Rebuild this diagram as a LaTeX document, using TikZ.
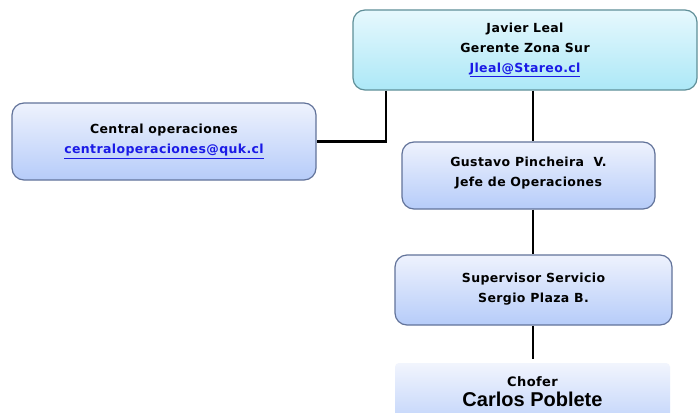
\documentclass[tikz,border=0pt]{standalone}
\usepackage{fontspec}
\setmainfont{DejaVu Sans}[LetterSpace=3]
\newfontfamily\bigfont{Liberation Sans}
\usetikzlibrary{calc}
\definecolor{cyantop}{HTML}{E6F8FD}
\definecolor{cyanbot}{HTML}{ACE8F7}
\definecolor{cyanedge}{HTML}{5F8F98}
\definecolor{bluetop}{HTML}{EEF2FD}
\definecolor{bluebot}{HTML}{B6CCF9}
\definecolor{blueedge}{HTML}{62739A}
\definecolor{linkblue}{HTML}{1A1AE6}
\tikzset{
  boxbase/.style={rounded corners=12pt, line width=1.2pt, align=center, inner sep=0pt,
    font=\fontsize{12.5}{20}\selectfont\bfseries, text=black},
  cyanbox/.style={boxbase, draw=cyanedge, top color=cyantop, bottom color=cyanbot},
  bluebox/.style={boxbase, draw=blueedge, top color=bluetop, bottom color=bluebot},
  softbox/.style={boxbase, rounded corners=4pt, draw=none, top color=bluetop!80!white, bottom color=bluebot!80!white},
  conn/.style={line width=2.6pt, black}
}
\newcommand{\lnk}[1]{\textcolor{linkblue}{\underline{#1}}}
\begin{document}
\begin{tikzpicture}[x=1pt,y=-1pt]
\useasboundingbox (0,0) rectangle (698,412);
\clip (0,0) rectangle (698,412);
\fill[white] (0,0) rectangle (698,412);
\node[cyanbox, minimum width=344pt, minimum height=80pt] (top) at (525,50)
  {Javier Leal\\Gerente Zona Sur\\\lnk{Jleal@Stareo.cl}};
\node[bluebox, minimum width=304pt, minimum height=77pt] (left) at (164,141.5)
  {Central operaciones\\\lnk{centraloperaciones@quk.cl}};
\node[bluebox, minimum width=253pt, minimum height=67pt] (gus) at (528.5,175.5)
  {\raisebox{0pt}[0pt][0pt]{}Gustavo Pincheira\ \ V.\\Jefe de Operaciones\rule[-8pt]{0pt}{0pt}};
\node[bluebox, minimum width=277pt, minimum height=70pt] (sup) at (533.5,290)
  {Supervisor Servicio\\Sergio Plaza B.\rule[-5pt]{0pt}{0pt}};
\node[softbox, minimum width=275pt, minimum height=56pt] (cho) at (532.5,391)
  {{\fontsize{13}{14}\selectfont\raisebox{0pt}[11pt][5pt]{Chofer}}\\{\bigfont\fontsize{20}{21}\selectfont Carlos Poblete}};
\coordinate (c1) at (386,141.5);
\draw[conn] (top.south -| c1) -- (c1) -- (left.east);
\coordinate (vx) at (533,0);
\draw[conn] (top.south -| vx) -- (gus.north -| vx);
\draw[conn] (gus.south -| vx) -- (sup.north -| vx);
\draw[conn] (sup.south -| vx) -- ($(cho.north -| vx)+(0,-3)$);
\end{tikzpicture}
\end{document}
